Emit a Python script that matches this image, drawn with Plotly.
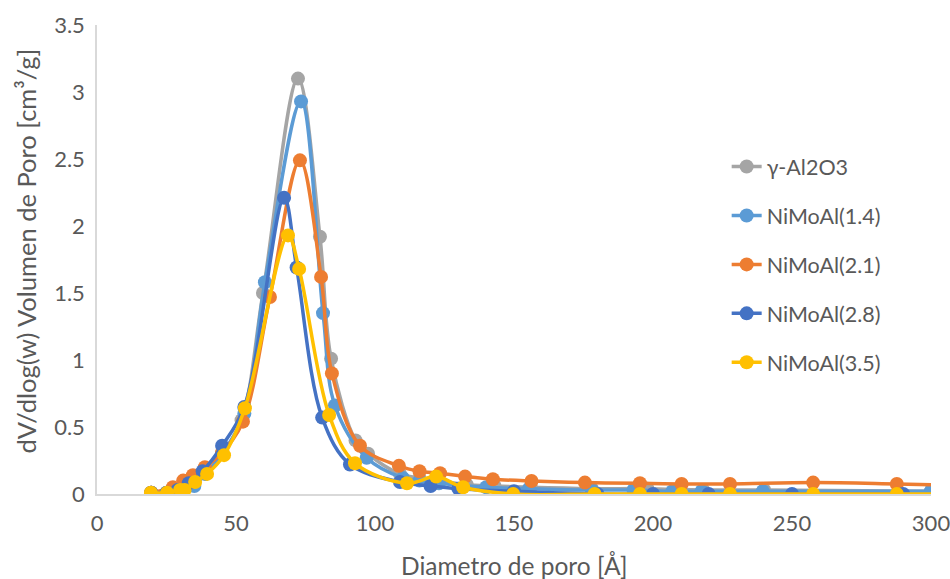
import plotly.graph_objects as go

# ---- data ----
names = ["γ-Al2O3", "NiMoAl(1.4)", "NiMoAl(2.1)", "NiMoAl(2.8)", "NiMoAl(3.5)"]

x_al2o3 = [19.5, 25, 29, 31, 35, 39, 45, 52, 59.7, 72.3, 80.2, 84.2, 93, 97.5, 109, 116, 123, 133, 143, 156, 178, 198, 218, 240, 300]
y_al2o3 = [0.01, 0.01, 0.03, 0.04, 0.08, 0.15, 0.30, 0.55, 1.50, 3.10, 1.92, 1.01, 0.40, 0.30, 0.15, 0.12, 0.10, 0.07, 0.06, 0.05, 0.04, 0.04, 0.03, 0.03, 0.02]

x_14 = [19.5, 25, 29, 31, 35, 39, 45, 53, 60.4, 73.4, 81.3, 85.6, 97, 110, 116, 123, 140, 155.4, 178, 193, 207, 217.5, 239.5, 300]
y_14 = [0.01, 0.0, 0.03, 0.03, 0.06, 0.15, 0.30, 0.60, 1.58, 2.93, 1.35, 0.66, 0.27, 0.12, 0.10, 0.08, 0.05, 0.04, 0.03, 0.03, 0.02, 0.02, 0.02, 0.02]

x_21 = [19.5, 27.3, 31, 34.5, 38.8, 45, 52.5, 62.2, 73, 80.6, 84.5, 94.6, 108.6, 116, 123.4, 132.4, 142.4, 156.3, 175.5, 195.3, 210.3, 227.7, 257.6, 287.7, 330]
y_21 = [0.01, 0.05, 0.10, 0.14, 0.20, 0.31, 0.54, 1.47, 2.49, 1.62, 0.90, 0.36, 0.21, 0.17, 0.155, 0.13, 0.11, 0.097, 0.085, 0.08, 0.075, 0.075, 0.085, 0.075, 0.055]

x_28 = [19.5, 25, 29, 33, 38, 45, 53, 67.3, 71.8, 81, 91, 109, 120, 130, 150, 180, 200, 220, 250, 290]
y_28 = [0.01, 0.01, 0.03, 0.08, 0.17, 0.36, 0.65, 2.21, 1.69, 0.57, 0.22, 0.09, 0.06, 0.04, 0.02, 0.0, 0.0, 0.0, 0.0, 0.0]

x_35 = [19.4, 25.2, 29.9, 31.5, 35.3, 39.6, 45.7, 53.2, 68.7, 72.7, 83.5, 92.8, 111.5, 122, 131.7, 149.7, 179, 195.3, 210.3, 227.7, 257.6, 287.7, 330]
y_35 = [0.01, 0.01, 0.03, 0.03, 0.09, 0.15, 0.29, 0.64, 1.93, 1.68, 0.59, 0.23, 0.08, 0.13, 0.05, 0.0, 0.0, 0.0, 0.0, 0.0, 0.0, 0.0, 0.0]

colors = ["#A5A5A5", "#5B9BD5", "#ED7D31", "#4472C4", "#FFC000"]
series = [(x_al2o3, y_al2o3), (x_14, y_14), (x_21, y_21), (x_28, y_28), (x_35, y_35)]

x_title = "Diametro de poro [Å]"
y_title = "dV/dlog(w) Volumen de Poro [cm³/g]"

FONT = "Lato"
TXT = "#595959"

fig = go.Figure()
for i, ((xs, ys), nm, col) in enumerate(zip(series, names, colors)):
    fig.add_trace(go.Scatter(
        x=xs, y=ys, name=nm, mode="lines+markers",
        line=dict(color=col, width=3.5, shape="spline", smoothing=1.0),
        marker=dict(color=col, size=14),
        legendgroup=f"g{i}",
    ))

fig.add_annotation(text=x_title, xref="paper", yref="paper", x=0.5, y=0,
                   xanchor="center", yanchor="middle", yshift=-71, showarrow=False,
                   font=dict(family=FONT, size=24.5, color=TXT))
fig.add_annotation(text=y_title, xref="paper", yref="paper", x=0, y=0.5,
                   xanchor="center", yanchor="middle", xshift=-72, yshift=8,
                   textangle=-90, showarrow=False,
                   font=dict(family=FONT, size=25.5, color=TXT))

fig.update_layout(
    width=950, height=579,
    margin=dict(l=97, r=19, t=25, b=85),
    paper_bgcolor="white", plot_bgcolor="white",
    font=dict(family=FONT, size=22, color=TXT),
    showlegend=True,
    legend=dict(x=0.755, y=0.742, xanchor="left", yanchor="top",
                traceorder="grouped", tracegroupgap=18,
                font=dict(family=FONT, size=21.5, color=TXT),
                bgcolor="rgba(0,0,0,0)"),
    xaxis=dict(range=[0, 300], dtick=50, tick0=0, showgrid=False, zeroline=False,
               showline=True, linecolor="#D9D9D9", linewidth=1.5, ticks="",
               automargin=False, ticklabeloverflow="allow", ticklabelstandoff=9,
               tickfont=dict(family=FONT, size=22, color=TXT)),
    yaxis=dict(range=[0, 3.5], dtick=0.5, tick0=0, showgrid=False, zeroline=False,
               showline=True, linecolor="#D9D9D9", linewidth=1.5, ticks="",
               automargin=False, ticklabeloverflow="allow", ticklabelstandoff=6,
               tickfont=dict(family=FONT, size=22, color=TXT)),
)

fig.write_html("out.html")
